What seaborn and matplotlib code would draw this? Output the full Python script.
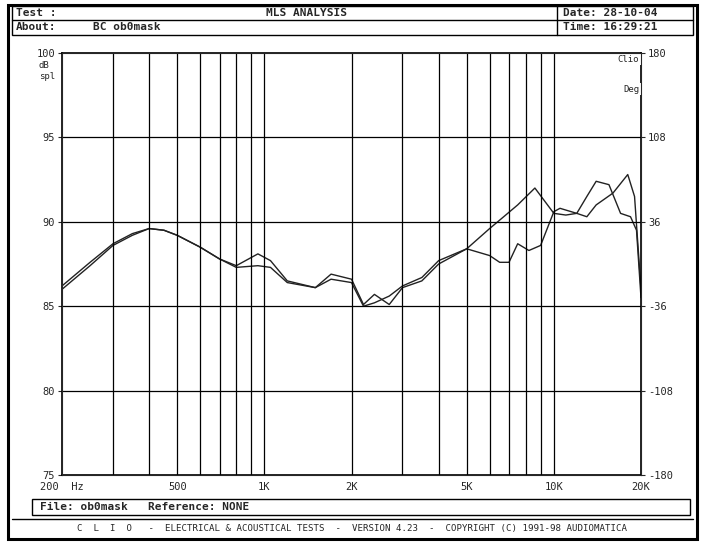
import matplotlib
matplotlib.use("Agg")
import matplotlib.pyplot as plt
import seaborn as sns
import numpy as np
import pandas as pd
from matplotlib.patches import Rectangle
from matplotlib.lines import Line2D

freq_a = [200,250,300,350,400,450,500,600,700,800,950,1050,1200,1500,1700,2000,2200,2400,2700,3000,3500,4000,5000,6000,6500,7500,8600,10000,11000,12000,13000,14000,16000,18000,19000,20000]
db_a   = [86.2,87.6,88.7,89.3,89.6,89.5,89.2,88.5,87.8,87.4,88.1,87.7,86.5,86.1,86.9,86.6,85.1,85.7,85.1,86.1,86.5,87.5,88.4,89.6,90.1,91.0,92.0,90.5,90.4,90.5,90.3,91.0,91.7,92.8,91.5,86.0]
freq_b = [200,250,300,350,400,450,500,600,700,800,950,1050,1200,1500,1700,2000,2200,2400,2700,3000,3500,4000,5000,6000,6500,7000,7500,8200,9000,10000,10500,12000,13000,14000,15500,17000,18400,19300,20000]
db_b   = [86.0,87.4,88.6,89.2,89.6,89.5,89.2,88.5,87.8,87.3,87.4,87.3,86.4,86.1,86.6,86.4,85.0,85.2,85.6,86.2,86.7,87.7,88.4,88.0,87.6,87.6,88.7,88.3,88.6,90.6,90.8,90.5,91.5,92.4,92.2,90.5,90.3,89.5,85.5]
x_ticks = [200,500,1000,2000,5000,10000,20000]
x_labels = ["200  Hz","500","1K","2K","5K","10K","20K"]
y_ticks = [75,80,85,90,95,100]
deg_labels = ["-180","-108","-36","36","108","180"]

sns.set_style("white")
plt.rcParams['font.family'] = ['DejaVu Sans Mono']
fig = plt.figure(figsize=(7.05,5.43), dpi=100)
W,H = 705,543
ax = fig.add_axes([62/W, (H-475)/H, 579/W, 422/H])
df = pd.concat([pd.DataFrame({"f":freq_a,"db":db_a,"s":"a"}), pd.DataFrame({"f":freq_b,"db":db_b,"s":"b"})])
sns.lineplot(data=df, x="f", y="db", units="s", estimator=None, color="#222222", lw=1.0, ax=ax, legend=False)
ax.set_xscale("log")
ax.set_xlim(200,20000); ax.set_ylim(75,100)
grid = [300,400,500,600,700,800,900,1000,2000,3000,4000,5000,6000,7000,8000,9000,10000]
for g in grid:
    ax.axvline(g, color="black", lw=0.9)
for y in y_ticks[1:-1]:
    ax.axhline(y, color="black", lw=0.9)
ax.set_xticks(x_ticks); ax.set_xticklabels(x_labels, fontsize=7.5)
ax.xaxis.set_minor_locator(matplotlib.ticker.NullLocator())
ax.set_yticks(y_ticks); ax.set_yticklabels([str(v) for v in y_ticks], fontsize=7.5)
ax.tick_params(direction="out", length=3, width=0.8, pad=2)
ax.set_xlabel(""); ax.set_ylabel("")
for s in ax.spines.values():
    s.set_color("black"); s.set_linewidth(1.2)
ax2 = ax.twinx()
ax2.set_ylim(75,100); ax2.set_yticks(y_ticks); ax2.set_yticklabels(deg_labels, fontsize=7.5)
ax2.tick_params(direction="out", length=3, pad=2)
ax.text(-0.04,0.98,"dB\nspl", transform=ax.transAxes, fontsize=6.5, va="top")
ax.text(0.998,0.925,"Deg", transform=ax.transAxes, fontsize=6.5, ha="right", va="top",
        bbox=dict(fc="white", ec="none", pad=1))
ax.text(0.997,0.995,"Clio", transform=ax.transAxes, fontsize=6.5, ha="right", va="top",
        bbox=dict(fc="white", ec="none", pad=1))

def px(x,y): return (x/W, 1-y/H)
def rect(x0,y0,x1,y1,lw=1.0):
    fig.patches.append(Rectangle(px(x0,y1),(x1-x0)/W,(y1-y0)/H, transform=fig.transFigure, fill=False, ec="black", lw=lw))
def line(x0,y0,x1,y1,lw=1.0):
    fig.lines.append(Line2D([x0/W,x1/W],[1-y0/H,1-y1/H], transform=fig.transFigure, color="black", lw=lw))
rect(8,5,697,539,lw=2.2)
rect(12,6,693,35,lw=1.0)
line(12,20,693,20); line(557,6,557,35)
kw = dict(fontsize=8, fontweight="bold", va="center", transform=fig.transFigure)
fig.text(*px(16,13),"Test :", **kw)
fig.text(*px(16,27),"About:", **kw)
fig.text(*px(93,27),"BC ob0mask", **kw)
fig.text(*px(307,13),"MLS ANALYSIS", ha="center", **kw)
fig.text(*px(563,13),"Date: 28-10-04", **kw)
fig.text(*px(563,27),"Time: 16:29:21", **kw)
rect(32,499,690,515)
fig.text(*px(40,507),"File: ob0mask   Reference: NONE", **kw)
line(12,519,693,519)
fig.text(*px(352,528),"C  L  I  O   -  ELECTRICAL & ACOUSTICAL TESTS  -  VERSION 4.23  -  COPYRIGHT (C) 1991-98 AUDIOMATICA",
         ha="center", va="center", fontsize=6.6, transform=fig.transFigure)
fig.savefig("out.png", dpi=100)
